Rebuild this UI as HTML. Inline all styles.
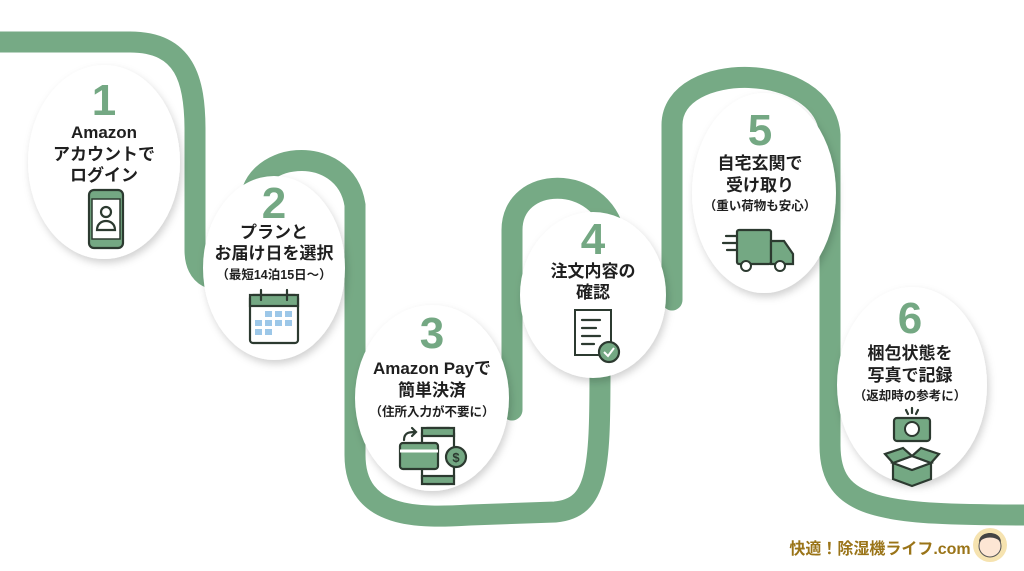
<!DOCTYPE html>
<html><head><meta charset="utf-8"><style>
html,body{margin:0;padding:0;background:#fff;}
svg{display:block;}
text{font-family:"Liberation Sans","Noto Sans CJK JP",sans-serif;font-weight:bold;text-anchor:middle;}
.n{fill:#74a883;font-size:44px;}
.t{fill:#1f1f1f;font-size:17px;}
.s{fill:#1f1f1f;font-size:12.5px;}
.ic{fill:#74a883;stroke:#2c3a30;stroke-width:2.2;}
.il{fill:none;stroke:#2c3a30;stroke-width:2.2;stroke-linecap:round;}
</style></head><body>
<svg width="1024" height="571" viewBox="0 0 1024 571">
<defs>
<filter id="sh" x="-20%" y="-20%" width="140%" height="140%"><feDropShadow dx="2" dy="4" stdDeviation="4" flood-color="#000" flood-opacity="0.18"/></filter>
</defs>
<rect width="1024" height="571" fill="#fff"/>
<g fill="none" stroke="#76aa85" stroke-width="21" stroke-linecap="round">
<path d="M-10 42 L130 42 C185 42 195 80 195 130 L195 250 C195 278 215 285 235 275"/>
<path d="M250 210 C245 150 345 140 355 205 L355 455 C355 520 420 518 470 515 L555 512 C598 508 600 470 600 370"/>
<path d="M512 410 L512 230 C512 175 600 172 615 235"/>
<path d="M672 300 L672 125 C672 60 825 60 830 135 L830 445 C830 510 880 515 1030 515"/>
</g>
<g fill="#fff" filter="url(#sh)">
<ellipse cx="104" cy="162" rx="76" ry="97"/>
<ellipse cx="274" cy="268" rx="71" ry="92"/>
<ellipse cx="432" cy="398" rx="77" ry="93"/>
<ellipse cx="593" cy="295" rx="73" ry="83"/>
<ellipse cx="764" cy="193" rx="72" ry="100"/>
<ellipse cx="912" cy="385" rx="75" ry="98"/>
</g>
<!-- 1 -->
<text class="n" x="104" y="115">1</text>
<text class="t" x="104" y="138">Amazon</text>
<text class="t" x="104" y="160">アカウントで</text>
<text class="t" x="104" y="181">ログイン</text>
<rect class="ic" x="89" y="190" width="34" height="58" rx="5"/>
<rect x="92" y="199" width="28" height="40" fill="#fff" stroke="#2c3a30" stroke-width="1.5"/>
<circle cx="106" cy="212" r="5" class="il"/>
<path class="il" d="M97 230 C97 218 115 218 115 230 Z"/>
<!-- 2 -->
<text class="n" x="274" y="218">2</text>
<text class="t" x="274" y="238">プランと</text>
<text class="t" x="274" y="259">お届け日を選択</text>
<text class="s" x="274" y="279">（最短14泊15日〜）</text>
<rect x="250" y="295" width="48" height="48" rx="3" fill="#fff" stroke="#2c3a30" stroke-width="2.2"/>
<rect class="ic" x="250" y="295" width="48" height="11"/>
<path class="il" d="M261 290 V300 M287 290 V300"/>
<g fill="#9cc7e8"><rect x="265" y="311" width="7" height="6"/><rect x="275" y="311" width="7" height="6"/><rect x="285" y="311" width="7" height="6"/><rect x="255" y="320" width="7" height="6"/><rect x="265" y="320" width="7" height="6"/><rect x="275" y="320" width="7" height="6"/><rect x="285" y="320" width="7" height="6"/><rect x="255" y="329" width="7" height="6"/><rect x="265" y="329" width="7" height="6"/></g>
<!-- 3 -->
<text class="n" x="432" y="348">3</text>
<text class="t" x="432" y="374">Amazon Payで</text>
<text class="t" x="432" y="396">簡単決済</text>
<text class="s" x="432" y="416">（住所入力が不要に）</text>
<rect x="422" y="428" width="32" height="56" rx="5" fill="#fff" stroke="#2c3a30" stroke-width="2.2"/>
<rect class="ic" x="422" y="428" width="32" height="8"/><rect class="ic" x="422" y="476" width="32" height="8"/>
<rect class="ic" x="400" y="443" width="38" height="26" rx="3"/>
<path d="M400 451 H438" stroke="#fff" stroke-width="3"/>
<circle class="ic" cx="456" cy="457" r="10"/>
<text x="456" y="462" style="font-size:13px;fill:#2c3a30">$</text>
<path class="il" d="M404 440 C404 432 410 432 416 432 M412 428 L416 432 L412 436"/>
<!-- 4 -->
<text class="n" x="593" y="254">4</text>
<text class="t" x="593" y="277">注文内容の</text>
<text class="t" x="593" y="298">確認</text>
<path d="M575 310 L611 310 L611 355 L575 355 Z" fill="#fff" stroke="#2c3a30" stroke-width="2"/>
<path class="il" d="M582 320 H600 M582 328 H596 M582 336 H600 M582 344 H594"/>
<circle class="ic" cx="609" cy="352" r="10"/>
<path d="M604 352 L608 356 L614 348" fill="none" stroke="#fff" stroke-width="2"/>
<!-- 5 -->
<text class="n" x="760" y="145">5</text>
<text class="t" x="760" y="169">自宅玄関で</text>
<text class="t" x="760" y="191">受け取り</text>
<text class="s" x="760" y="210">（重い荷物も安心）</text>
<rect class="ic" x="737" y="230" width="34" height="34" rx="2"/>
<path class="ic" d="M771 241 H784 L793 254 V264 H771 Z"/>
<circle cx="746" cy="266" r="5" fill="#fff" stroke="#2c3a30" stroke-width="2"/>
<circle cx="780" cy="266" r="5" fill="#fff" stroke="#2c3a30" stroke-width="2"/>
<path class="il" d="M726 236 H736 M723 243 H736 M727 250 H736"/>
<!-- 6 -->
<text class="n" x="910" y="333">6</text>
<text class="t" x="910" y="359">梱包状態を</text>
<text class="t" x="910" y="381">写真で記録</text>
<text class="s" x="910" y="400">（返却時の参考に）</text>
<rect class="ic" x="894" y="418" width="36" height="23" rx="3"/>
<circle cx="912" cy="429" r="7" fill="#fff" stroke="#2c3a30" stroke-width="2"/>
<path class="il" d="M906 410 l2 4 M912 408 v5 M918 410 l-2 4"/>
<g transform="translate(0,5)">
<path class="ic" d="M893 458 L912 465 L931 458 V474 L912 481 L893 474 Z"/>
<path class="ic" d="M893 458 L912 451 L931 458 L912 465 Z" style="fill:#fff"/>
<path class="ic" d="M893 458 L885 449 L903 443 L912 451 Z"/>
<path class="ic" d="M931 458 L939 449 L921 443 L912 451 Z"/>
</g>
<!-- footer -->
<text x="880" y="554" style="font-size:16px;fill:#9a7418">快適！除湿機ライフ.com</text>
<circle cx="990" cy="545" r="17" fill="#f6e3b0"/>
<circle cx="990" cy="546" r="11" fill="#fde6d4" stroke="#555" stroke-width="1"/>
<path d="M979 542 C979 530 1001 530 1001 542 C995 536 985 536 979 542 Z" fill="#444"/>
</svg>
</body></html>
